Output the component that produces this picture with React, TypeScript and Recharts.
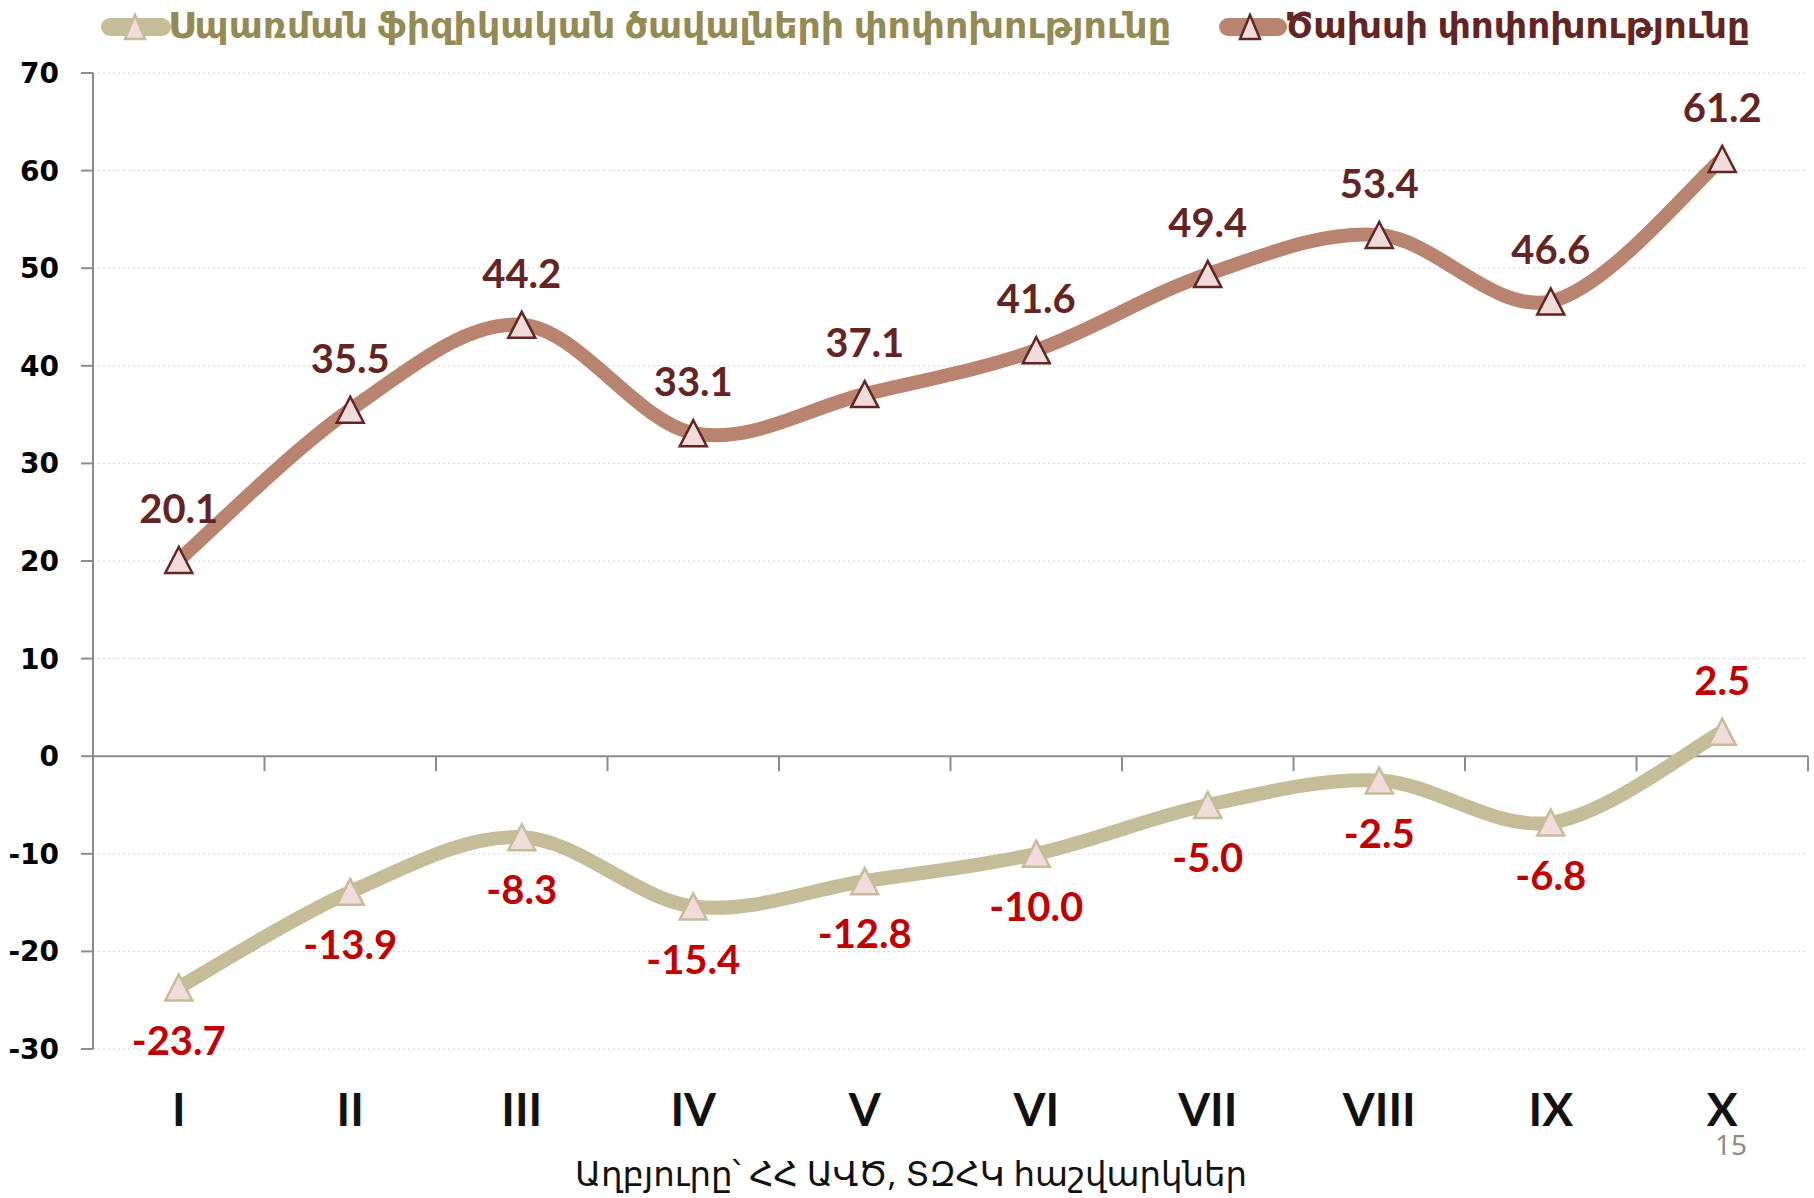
import React from 'react';
import { LineChart, Line, XAxis, YAxis, CartesianGrid, ReferenceLine, LabelList } from 'recharts';

const months = ['I', 'II', 'III', 'IV', 'V', 'VI', 'VII', 'VIII', 'IX', 'X'];
const volumeChange = [-23.7, -13.9, -8.3, -15.4, -12.8, -10.0, -5.0, -2.5, -6.8, 2.5];
const spendingChange = [20.1, 35.5, 44.2, 33.1, 37.1, 41.6, 49.4, 53.4, 46.6, 61.2];
const yTicks = [-30, -20, -10, 0, 10, 20, 30, 40, 50, 60, 70];
const seriesNames = ['Սպառման ֆիզիկական ծավալների փոփոխությունը', 'Ծախսի փոփոխությունը'];
const sourceText = 'Աղբյուրը՝ ՀՀ ԱՎԾ, ՏԶՀԿ հաշվարկներ';
const pageNumber = '15';

const data = months.map((m, i) => ({ month: m, volume: volumeChange[i], spending: spendingChange[i] }));

const VOL_LINE = '#C4BD97';
const SPEND_LINE = '#B9846F';
const MARKER_FILL = '#F2DCDB';
const SPEND_DARK = '#632523';
const VOL_LABEL = '#C00000';
const LEGEND_OLIVE = '#948A54';

// Excel-like smoothed line (Catmull-Rom style cardinal spline)
const smoothCurve = (context: any) => {
  let pts: number[][] = [];
  return {
    areaStart() {},
    areaEnd() {},
    lineStart() { pts = []; },
    point(x: number, y: number) { pts.push([+x, +y]); },
    lineEnd() {
      const n = pts.length;
      if (!n) return;
      context.moveTo(pts[0][0], pts[0][1]);
      const t = 1 / 6;
      for (let i = 0; i < n - 1; i++) {
        const p0 = pts[i === 0 ? 0 : i - 1];
        const p1 = pts[i];
        const p2 = pts[i + 1];
        const p3 = pts[i + 2 < n ? i + 2 : n - 1];
        context.bezierCurveTo(
          p1[0] + (p2[0] - p0[0]) * t, p1[1] + (p2[1] - p0[1]) * t,
          p2[0] - (p3[0] - p1[0]) * t, p2[1] - (p3[1] - p1[1]) * t,
          p2[0], p2[1]
        );
      }
    },
  };
};

const triangle = (cx: number, cy: number, stroke: string, key?: any, w = 27, h = 26) => (
  <polygon
    key={key}
    points={`${cx},${cy - h / 2} ${cx - w / 2},${cy + h / 2} ${cx + w / 2},${cy + h / 2}`}
    fill={MARKER_FILL}
    stroke={stroke}
    strokeWidth={2.5}
    strokeLinejoin="miter"
  />
);

const makeDot = (stroke: string) => (p: any) => {
  if (p.cx == null || p.cy == null) return <g key={`d-${p.index}`} />;
  return triangle(p.cx, p.cy, stroke, `d-${p.index}`);
};

const LABEL_FONT = "Lato, 'Open Sans', sans-serif";

const spendLabel = (p: any) => (
  <text key={`s-${p.index}`} x={p.x} y={p.y - 37} textAnchor="middle" fill={SPEND_DARK}
    fontFamily={LABEL_FONT} fontWeight={700} fontSize={40}>
    {Number(p.value).toFixed(1)}
  </text>
);

const volLabel = (p: any) => {
  const above = Number(p.value) > 0;
  return (
    <text key={`v-${p.index}`} x={p.x} y={above ? p.y - 37 : p.y + 67} textAnchor="middle" fill={VOL_LABEL}
      fontFamily={LABEL_FONT} fontWeight={700} fontSize={40}>
      {Number(p.value).toFixed(1)}
    </text>
  );
};

const XTick = (p: any) => (
  <text x={p.x} y={p.y + 77} textAnchor="middle" fill="#111" fontFamily={LABEL_FONT}
    fontWeight={700} fontSize={46}>
    {p.payload.value}
  </text>
);

const YTick = (p: any) => (
  <text x={p.x} y={p.y} dy="0.36em" textAnchor="end" fill="#000" fontFamily="'DejaVu Sans', Verdana, sans-serif"
    fontWeight={700} fontSize={28}>
    {p.payload.value}
  </text>
);

const ZeroAxis = (p: any) => {
  const { x1, y1, x2 } = p;
  const n = months.length;
  const step = (x2 - x1) / n;
  const ticks = [];
  for (let k = 1; k <= n; k++) {
    const x = x1 + step * k;
    ticks.push(<line key={k} x1={x} y1={y1} x2={x} y2={y1 + 15} stroke="#8C8C8C" strokeWidth={2} />);
  }
  return (
    <g>
      <line x1={x1} y1={y1} x2={x2} y2={y1} stroke="#8C8C8C" strokeWidth={2} />
      {ticks}
    </g>
  );
};

const Legend = () => (
  <svg width={1814} height={60} style={{ position: 'absolute', left: 0, top: 0 }}>
    <line x1={110} y1={27} x2={162} y2={27} stroke={VOL_LINE} strokeWidth={18} strokeLinecap="round" />
    {triangle(135, 27, VOL_LINE, undefined, 20, 24)}
    <text x={168} y={38} fill={LEGEND_OLIVE} fontFamily="'Noto Sans', 'DejaVu Sans', sans-serif" fontWeight={700}
      fontSize={36} textLength={1003} lengthAdjust="spacingAndGlyphs">{seriesNames[0]}</text>
    <line x1={1228} y1={27} x2={1278} y2={27} stroke={SPEND_LINE} strokeWidth={18} strokeLinecap="round" />
    {triangle(1250, 27, SPEND_DARK, undefined, 20, 24)}
    <text x={1285} y={38} fill={SPEND_DARK} fontFamily="'Noto Sans', 'DejaVu Sans', sans-serif" fontWeight={700}
      fontSize={36} textLength={465} lengthAdjust="spacingAndGlyphs">{seriesNames[1]}</text>
  </svg>
);

const Footer = () => (
  <svg width={1814} height={1198} style={{ position: 'absolute', left: 0, top: 0, pointerEvents: 'none' }}>
    <text x={1731} y={1155} textAnchor="middle" fill="#8C8C8C" fontFamily="'Noto Sans', sans-serif" fontSize={28}>{pageNumber}</text>
    <text x={575} y={1186} fill="#111" fontFamily="'Noto Sans', 'DejaVu Sans', sans-serif" fontSize={33}
      textLength={672} lengthAdjust="spacingAndGlyphs">{sourceText}</text>
  </svg>
);

export default function App() {
  return (
    <div style={{ position: 'absolute', left: 0, top: 0, width: 1814, height: 1198, background: '#fff', overflow: 'hidden' }}>
      <LineChart width={1814} height={1198} data={data} margin={{ top: 73, right: 6, bottom: 89, left: 0 }}>
        <CartesianGrid vertical={false} stroke="#D4D4D4" strokeDasharray="2 3" />
        <XAxis dataKey="month" scale="band" height={60} axisLine={false} tickLine={false} tickSize={0} tickMargin={0}
          tick={<XTick />} interval={0} />
        <YAxis width={93} domain={[-30, 70]} ticks={yTicks} interval={0} tickSize={12} tickMargin={22}
          axisLine={{ stroke: '#8C8C8C', strokeWidth: 2 }} tickLine={{ stroke: '#8C8C8C', strokeWidth: 2 }}
          tick={<YTick />} allowDataOverflow />
        <ReferenceLine y={0} shape={<ZeroAxis />} />
        <Line dataKey="volume" name={seriesNames[0]} type={smoothCurve as any} stroke={VOL_LINE} strokeWidth={14}
          dot={makeDot(VOL_LINE)} activeDot={false} isAnimationActive={false}>
          <LabelList dataKey="volume" content={volLabel} />
        </Line>
        <Line dataKey="spending" name={seriesNames[1]} type={smoothCurve as any} stroke={SPEND_LINE} strokeWidth={14}
          dot={makeDot(SPEND_DARK)} activeDot={false} isAnimationActive={false}>
          <LabelList dataKey="spending" content={spendLabel} />
        </Line>
      </LineChart>
      <Legend />
      <Footer />
    </div>
  );
}
